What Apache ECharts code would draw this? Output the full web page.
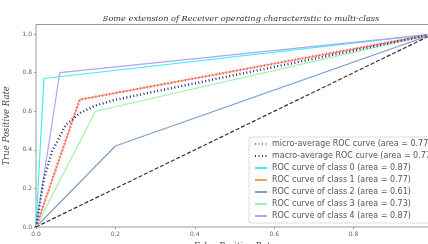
<!DOCTYPE html>
<html>
<head>
<meta charset="utf-8">
<script src="https://cdn.jsdelivr.net/npm/echarts@6/dist/echarts.min.js"></script>
<style>
    html, body { margin: 0; padding: 0; background: #fff; }
    #chart { width: 428px; height: 244px; }
</style>
</head>
<body>
<div id="chart"></div>
<script>
    // ROC points [fpr, tpr]
    var microPts = [[0, 0], [0.11, 0.66], [1, 1]];
    var macroPts = [[0, 0], [0.02, 0.25], [0.04, 0.39], [0.075, 0.53], [0.11, 0.59], [0.15, 0.63], [0.2, 0.66], [1, 1]];
    var class0Pts = [[0, 0], [0.02, 0.77], [1, 1]];
    var class1Pts = [[0, 0], [0.11, 0.66], [1, 1]];
    var class2Pts = [[0, 0], [0.2, 0.42], [1, 1]];
    var class3Pts = [[0, 0], [0.15, 0.6], [1, 1]];
    var class4Pts = [[0, 0], [0.06, 0.8], [1, 1]];
    var chancePts = [[0, 0], [1, 1]];
    var tickValues = [0, 0.2, 0.4, 0.6, 0.8, 1.0];

    var seriesNames = [
        'micro-average ROC curve (area = 0.77)',
        'macro-average ROC curve (area = 0.77)',
        'ROC curve of class 0 (area = 0.87)',
        'ROC curve of class 1 (area = 0.77)',
        'ROC curve of class 2 (area = 0.61)',
        'ROC curve of class 3 (area = 0.73)',
        'ROC curve of class 4 (area = 0.87)'
    ];
    var seriesColors = ['#ff4f9a', '#2a2a86', '#3ff0f0', '#f5a04a', '#7f9fd0', '#9ff0a8', '#aaa8ee'];

    function line(name, pts, color, width, type) {
        return {
            name: name,
            type: 'line',
            data: pts,
            showSymbol: false,
            symbol: 'none',
            silent: true,
            color: color,
            lineStyle: { color: color, width: width, type: type }
        };
    }

    var serifFont = 'DejaVu Serif';
    var tickLabel = { fontSize: 6, color: '#666', fontFamily: 'DejaVu Sans' };

    function axis(name, max, gap) {
        return {
            type: 'value', min: 0, max: max,
            name: name, nameLocation: 'middle', nameGap: gap,
            nameTextStyle: { fontSize: 8.5, fontStyle: 'italic', fontFamily: serifFont, color: '#444' },
            axisLine: { show: false },
            axisTick: { show: true, length: 2, customValues: tickValues, lineStyle: { color: '#999' } },
            splitLine: { show: false },
            axisLabel: Object.assign({
                margin: 4, customValues: tickValues,
                formatter: function (v) { return v.toFixed(1); }
            }, tickLabel)
        };
    }

    var option = {
        animation: false,
        title: {
            text: 'Some extension of Receiver operating characteristic to multi-class',
            left: 236, textAlign: 'center', top: 10,
            textStyle: { fontSize: 8.2, fontWeight: 'normal', fontStyle: 'italic', fontFamily: serifFont, color: '#333' }
        },
        grid: {
            left: 36, right: -5, top: 24.5, bottom: 17,
            containLabel: false, outerBoundsMode: 'none',
            show: true, borderColor: '#999', borderWidth: 1
        },
        xAxis: axis('False Positive Rate', 1, 12),
        yAxis: axis('True Positive Rate', 1.05, 18),
        legend: {
            data: seriesNames,
            orient: 'vertical',
            left: 249, top: 137,
            itemWidth: 12, itemHeight: 8, itemGap: 4,
            padding: [3, 8, 3, 5],
            backgroundColor: '#fff',
            borderColor: '#ddd', borderWidth: 1, borderRadius: 3,
            itemStyle: { opacity: 0 },
            textStyle: { fontSize: 8, lineHeight: 8, color: '#555', fontFamily: 'DejaVu Sans' }
        },
        series: [
            line('chance', chancePts, '#333', 1.2, [4, 2]),
            line(seriesNames[2], class0Pts, seriesColors[2], 1.2, 'solid'),
            line(seriesNames[3], class1Pts, seriesColors[3], 1.2, 'solid'),
            line(seriesNames[4], class2Pts, seriesColors[4], 1.2, 'solid'),
            line(seriesNames[5], class3Pts, seriesColors[5], 1.2, 'solid'),
            line(seriesNames[6], class4Pts, seriesColors[6], 1.2, 'solid'),
            line(seriesNames[0], microPts, seriesColors[0], 2.5, [1, 2.5]),
            line(seriesNames[1], macroPts, seriesColors[1], 2.5, [1, 2.5])
        ]
    };

    echarts.init(document.getElementById('chart')).setOption(option);
</script>
</body>
</html>
